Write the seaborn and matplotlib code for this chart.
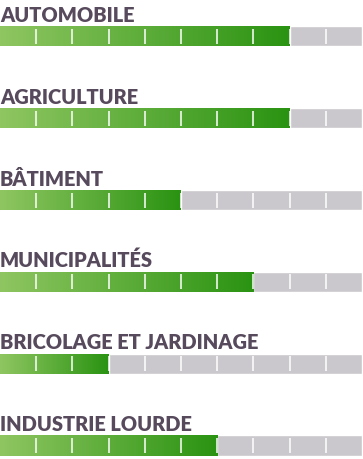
import numpy as np
import matplotlib
matplotlib.use("Agg")
import matplotlib.pyplot as plt
from matplotlib.colors import LinearSegmentedColormap
import seaborn as sns

# sectors and their score out of 10
categories = ["AUTOMOBILE", "AGRICULTURE", "BÂTIMENT", "MUNICIPALITÉS",
              "BRICOLAGE ET JARDINAGE", "INDUSTRIE LOURDE"]
scores = [8, 8, 5, 7, 3, 6]
max_score = 10

sns.set_style("white")
plt.rcParams['font.family'] = ['Lato', 'DejaVu Sans']

fig = plt.figure(figsize=(3.63, 4.60), dpi=100)
ax = fig.add_axes([0, 0, 1, 1])

bar_h = 0.245
# grey background track
sns.barplot(x=[max_score] * len(categories), y=categories, orient="h",
            color="#cac8cc", width=bar_h, saturation=1, ax=ax)
# filled part
sns.barplot(x=scores, y=categories, orient="h", color="#2a9312",
            width=bar_h, saturation=1, ax=ax)

green = LinearSegmentedColormap.from_list("g", ["#8fc661", "#2a9312"])
grad = np.linspace(0, 1, 256).reshape(1, -1)
filled = ax.patches[len(categories):]
for p, s in zip(filled, scores):
    y0, y1 = p.get_y(), p.get_y() + p.get_height()
    im = ax.imshow(grad, cmap=green, aspect="auto",
                   extent=[0, s, y1, y0], zorder=3, interpolation="bilinear")
    im.set_clip_path(p)

# white separators between segments
for i in range(len(categories)):
    ax.vlines(np.arange(1, max_score), i - bar_h / 2 + 0.03, i + bar_h / 2 - 0.03,
              color="white", lw=1.1, zorder=4)
    ax.text(0, i - 0.19, categories[i], fontsize=14.4, fontweight="heavy",
            color="#564a5c", ha="left", va="baseline")

ax.set_xlim(0, 10.03)
ax.set_ylim(5.165, -0.458)
ax.axis("off")

fig.savefig("out.png", dpi=100)
